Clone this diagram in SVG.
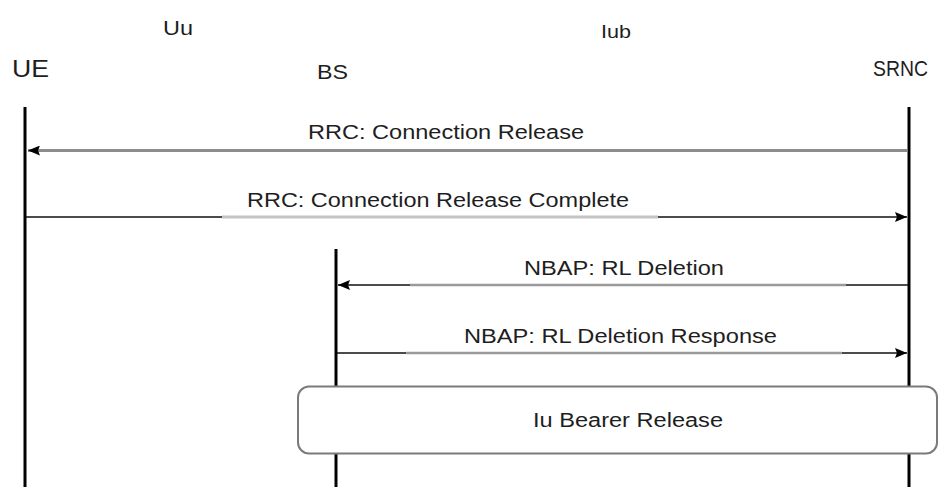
<svg xmlns="http://www.w3.org/2000/svg" width="941" height="487" viewBox="0 0 941 487">
  <style>
    text { font-family: "Liberation Sans", Arial, sans-serif; fill: #1e1e1e; }
    .life { stroke: #000; stroke-width: 3; }
    .msg { fill: none; stroke: #111; stroke-width: 1.5; }
    .mid { fill: none; stroke: #9a9a9a; stroke-width: 2.5; }
    .lbl { font-size: 20px; }
  </style>
  <defs>
    <marker id="ah" viewBox="0 0 12 10" refX="12" refY="5" markerWidth="12" markerHeight="10" markerUnits="userSpaceOnUse" orient="auto">
      <path d="M0,0 L12,5 L0,10 L2,5 Z" fill="#000"/>
    </marker>
  </defs>

  <!-- interface labels -->
  <text x="163" y="35" font-size="20" textLength="30" lengthAdjust="spacingAndGlyphs">Uu</text>
  <text x="601" y="38" font-size="19" textLength="30" lengthAdjust="spacingAndGlyphs">Iub</text>

  <!-- participants -->
  <g id="ue">
    <text x="12" y="77" font-size="24" textLength="37" lengthAdjust="spacingAndGlyphs">UE</text>
    <line class="life" x1="25" y1="107" x2="25" y2="487"/>
  </g>
  <g id="bs">
    <text x="317" y="79" font-size="21" textLength="31" lengthAdjust="spacingAndGlyphs">BS</text>
    <line class="life" x1="336" y1="249" x2="336" y2="487"/>
  </g>
  <g id="srnc">
    <text x="873" y="76" font-size="22" textLength="55" lengthAdjust="spacingAndGlyphs">SRNC</text>
    <line class="life" x1="909" y1="107" x2="909" y2="487"/>
  </g>

  <!-- messages -->
  <g id="connectors">
    <!-- RRC: Connection Release (SRNC -> UE) -->
    <line x1="907" y1="150.5" x2="28" y2="150.5" stroke="#8c8c8c" stroke-width="3" marker-end="url(#ah)"/>
    <text class="lbl" x="308" y="139" textLength="276" lengthAdjust="spacingAndGlyphs">RRC: Connection Release</text>

    <!-- RRC: Connection Release Complete (UE -> SRNC) -->
    <line x1="222" y1="217" x2="658" y2="217" stroke="#c4c4c4" stroke-width="3"/>
    <line class="msg" x1="26" y1="217" x2="222" y2="217"/>
    <line class="msg" x1="658" y1="217" x2="907" y2="217" marker-end="url(#ah)"/>
    <text class="lbl" x="247" y="207" textLength="382" lengthAdjust="spacingAndGlyphs">RRC: Connection Release Complete</text>

    <!-- NBAP: RL Deletion (SRNC -> BS) -->
    <line class="mid" x1="410" y1="285" x2="846" y2="285"/>
    <line class="msg" x1="908" y1="285" x2="846" y2="285"/>
    <line class="msg" x1="410" y1="285" x2="338" y2="285" marker-end="url(#ah)"/>
    <text class="lbl" x="524" y="275" textLength="200" lengthAdjust="spacingAndGlyphs">NBAP: RL Deletion</text>

    <!-- NBAP: RL Deletion Response (BS -> SRNC) -->
    <line class="mid" x1="406" y1="353" x2="842" y2="353"/>
    <line class="msg" x1="337" y1="353" x2="406" y2="353"/>
    <line class="msg" x1="842" y1="353" x2="907" y2="353" marker-end="url(#ah)"/>
    <text class="lbl" x="464" y="343" textLength="313" lengthAdjust="spacingAndGlyphs">NBAP: RL Deletion Response</text>
  </g>

  <!-- procedure box spanning BS and SRNC -->
  <g id="iu-bearer-release">
    <rect x="298" y="386.5" width="639" height="67" rx="11" ry="11" fill="#fff" stroke="#7a7a7a" stroke-width="2"/>
    <text class="lbl" x="533" y="427" textLength="190" lengthAdjust="spacingAndGlyphs">Iu Bearer Release</text>
  </g>
</svg>
